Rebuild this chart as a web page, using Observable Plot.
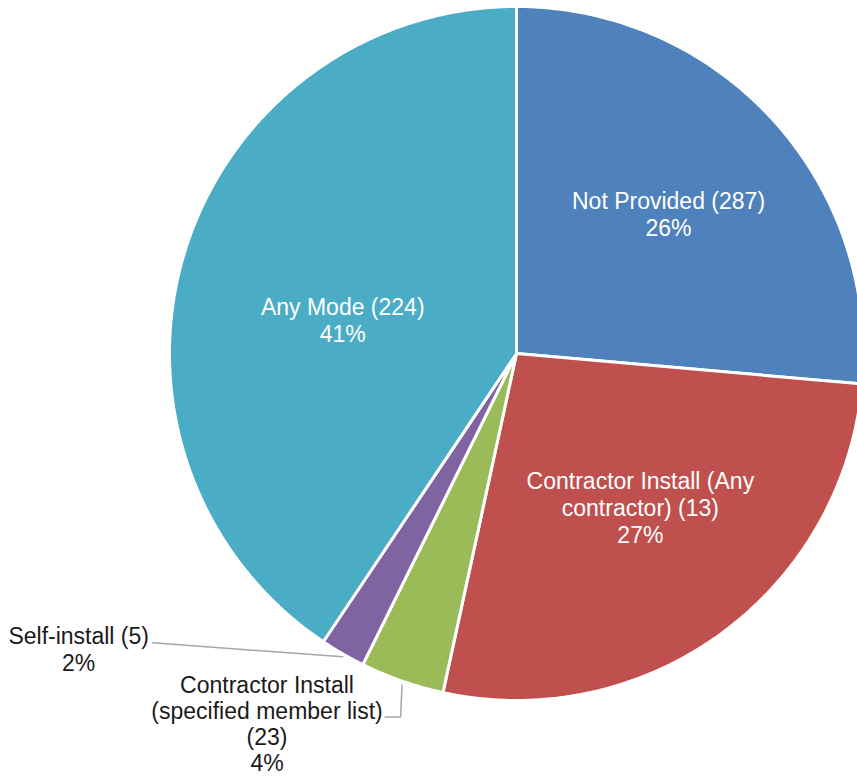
<!DOCTYPE html>
<html>
<head>
<meta charset="utf-8">
<script src="https://cdn.jsdelivr.net/npm/d3@7"></script>
<script src="https://cdn.jsdelivr.net/npm/@observablehq/plot@0.6"></script>
<style>
  html, body { margin: 0; padding: 0; background: #fff; overflow: hidden; }
  #chart svg { display: block; }
</style>
</head>
<body>
<div id="chart"></div>
<script>
// ---- data ----
const categories = [
  "Not Provided",
  "Contractor Install (Any contractor)",
  "Contractor Install (specified member list)",
  "Self-install",
  "Any Mode"
];
const counts = [287, 13, 23, 5, 224];
// slice sizes (percent of the circle)
const shares = [26.4, 27.0, 3.9, 2.1, 40.6];
const labelTexts = [
  "Not Provided (287)\n26%",
  "Contractor Install (Any\ncontractor) (13)\n27%",
  "Contractor Install\n(specified member list)\n(23)\n4%",
  "Self-install (5)\n2%",
  "Any Mode (224)\n41%"
];
const colors = ["#4F81BD", "#C0504D", "#9BBB59", "#8064A2", "#4BACC6"];

// ---- layout (styling) ----
const W = 857, H = 777;
const CX = 516, CY = 353, R = 347;
const FONT = 23, LH = 1.17;
const insideRadius = [0.594, 0.569, null, null, 0.51];
const insideAngleShift = [0, -2.5, 0, 0, -6]; // degrees
const outsideOffset = [null, null, [-135, 43], [-264, -5], null]; // px dx, dy of text from slice edge
const outsideLH = [null, null, 1.13, 1.17, null];
const leaderOffsets = [null, null, [[0, 4], [-1.5, 36], [-17, 36]], [[0, 3], [-190, -11]], null];

const arcs = d3.pie().sort(null).value(d => d)(shares);
const slices = arcs.map((a, i) => {
  const mid = (a.startAngle + a.endAngle) / 2;
  return {i, cat: categories[i], a0: a.startAngle, a1: a.endAngle, mid};
});

// polygon points in pixel-like data units (y up)
const polyPts = [];
for (const s of slices) {
  polyPts.push({cat: s.cat, x: 0, y: 0});
  const n = Math.max(2, Math.ceil((s.a1 - s.a0) / (Math.PI / 360)));
  for (let k = 0; k <= n; k++) {
    const t = s.a0 + (s.a1 - s.a0) * k / n;
    polyPts.push({cat: s.cat, x: R * Math.sin(t), y: R * Math.cos(t)});
  }
  polyPts.push({cat: s.cat, x: 0, y: 0});
}

const inside = slices.filter(s => insideRadius[s.i] != null).map(s => {
  const t = s.mid + insideAngleShift[s.i] * Math.PI / 180;
  return {
    text: labelTexts[s.i],
    x: insideRadius[s.i] * R * Math.sin(t),
    y: insideRadius[s.i] * R * Math.cos(t)
  };
});

const outsideMarks = [];
for (const s of slices) {
  if (!outsideOffset[s.i]) continue;
  const ex = R * Math.sin(s.mid), ey = R * Math.cos(s.mid);
  const pts = leaderOffsets[s.i].map(([dx, dy]) => ({x: ex + dx, y: ey - dy}));
  outsideMarks.push(Plot.line(pts, {x: "x", y: "y", stroke: "#a6a6a6", strokeWidth: 1.5}));
  outsideMarks.push(Plot.text([{text: labelTexts[s.i], x: ex, y: ey}], {
    x: "x", y: "y", text: "text",
    dx: outsideOffset[s.i][0], dy: outsideOffset[s.i][1],
    fill: "#1a1a1a", fontSize: FONT, lineHeight: outsideLH[s.i], textAnchor: "middle"
  }));
}

const chart = Plot.plot({
  width: W, height: H, margin: 0,
  x: {domain: [-CX, W - CX], range: [0, W], axis: null},
  y: {domain: [-(H - CY), CY], range: [H, 0], axis: null},
  color: {domain: categories, range: colors},
  style: {fontFamily: "'Liberation Sans', Arial, sans-serif", background: "#fff"},
  marks: [
    Plot.line(polyPts, {x: "x", y: "y", z: "cat", fill: "cat", stroke: "#fff", strokeWidth: 3, strokeLinejoin: "round", curve: "linear"}),
    Plot.text(inside, {x: "x", y: "y", text: "text", fill: "#fff", fontSize: FONT, lineHeight: LH, textAnchor: "middle"}),
    ...outsideMarks
  ]
});
document.getElementById("chart").appendChild(chart);
</script>
</body>
</html>
